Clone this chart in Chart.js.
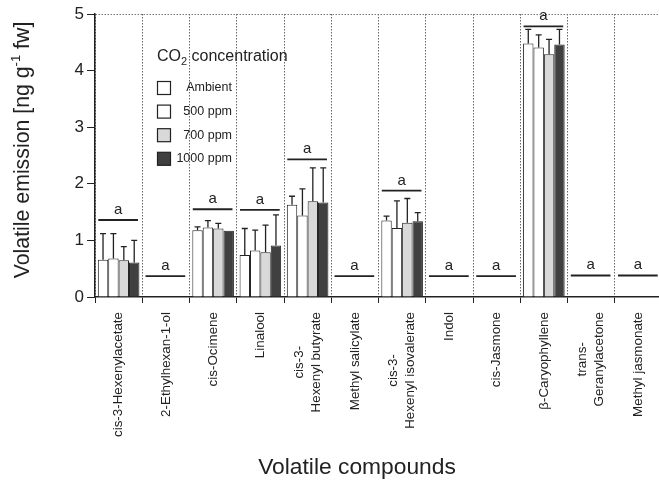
<!DOCTYPE html>
<html>
<head>
<meta charset="utf-8">
<script src="https://cdn.jsdelivr.net/npm/chart.js@4.4.0/dist/chart.umd.min.js"></script>
<style>
  html, body { margin: 0; padding: 0; background: #fff; overflow: hidden; }
  #wrap { position: relative; width: 662px; height: 489px; }
</style>
</head>
<body>
<div id="wrap"><canvas id="chart"></canvas></div>
<script>
const FONT = "'Liberation Sans', Arial, sans-serif";

// categories on the x axis
const compounds = [
  'cis-3-Hexenylacetate', '2-Ethylhexan-1-ol', 'cis-Ocimene', 'Linalool',
  ['cis-3-', 'Hexenyl butyrate'], 'Methyl salicylate', ['cis-3-', 'Hexenyl isovalerate'],
  'Indol', 'cis-Jasmone', 'β-Caryophyllene', ['trans-', 'Geranylacetone'], 'Methyl jasmonate'
];

// CO2 treatments
const treatments = ['Ambient', '500 ppm', '700 ppm', '1000 ppm'];
const treatmentColors = ['#ffffff', '#ffffff', '#d9d9d9', '#404040'];

// mean emission (ng g-1 fw)
const ambient = [0.66, 0, 1.18, 0.74, 1.63, 0, 1.35, 0, 0, 4.48, 0, 0];
const ppm500  = [0.68, 0, 1.23, 0.82, 1.44, 0, 1.22, 0, 0, 4.41, 0, 0];
const ppm700  = [0.65, 0, 1.21, 0.79, 1.69, 0, 1.31, 0, 0, 4.29, 0, 0];
const ppm1000 = [0.61, 0, 1.17, 0.91, 1.67, 0, 1.34, 0, 0, 4.46, 0, 0];

// upper error (SD)
const errAmbient = [0.46, 0, 0.06, 0.47, 0.15, 0, 0.08, 0, 0, 0.25, 0, 0];
const err500     = [0.44, 0, 0.12, 0.36, 0.47, 0, 0.48, 0, 0, 0.22, 0, 0];
const err700     = [0.24, 0, 0.09, 0.48, 0.59, 0, 0.43, 0, 0, 0.26, 0, 0];
const err1000    = [0.39, 0, 0.00, 0.54, 0.61, 0, 0.15, 0, 0, 0.27, 0, 0];

// significance bar heights and letters
const sigLevel  = [1.36, 0.37, 1.55, 1.54, 2.43, 0.37, 1.88, 0.37, 0.37, 4.78, 0.38, 0.38];
const sigLetter = ['a', 'a', 'a', 'a', 'a', 'a', 'a', 'a', 'a', 'a', 'a', 'a'];

const yTicks = [0, 1, 2, 3, 4, 5];

const means = [ambient, ppm500, ppm700, ppm1000];
const errors = [errAmbient, err500, err700, err1000];

const errorBars = {
  id: 'errorBars',
  afterDatasetsDraw(chart) {
    const { ctx, scales: { y } } = chart;
    ctx.save();
    ctx.strokeStyle = '#222';
    ctx.lineWidth = 1.3;
    chart.data.datasets.forEach((ds, di) => {
      const meta = chart.getDatasetMeta(di);
      meta.data.forEach((bar, i) => {
        const e = errors[di][i];
        if (!e) return;
        const top = y.getPixelForValue(ds.data[i] + e);
        ctx.beginPath();
        ctx.moveTo(bar.x, bar.y);
        ctx.lineTo(bar.x, top);
        ctx.moveTo(bar.x - 3, top);
        ctx.lineTo(bar.x + 3, top);
        ctx.stroke();
      });
    });
    ctx.restore();
  }
};

const sigMarks = {
  id: 'sigMarks',
  afterDatasetsDraw(chart) {
    const { ctx, scales: { x, y } } = chart;
    const half = (x.getPixelForValue(1) - x.getPixelForValue(0)) * 0.42;
    ctx.save();
    ctx.strokeStyle = '#222';
    ctx.fillStyle = '#222';
    ctx.lineWidth = 1.8;
    ctx.font = '15px ' + FONT;
    ctx.textAlign = 'center';
    ctx.textBaseline = 'alphabetic';
    sigLevel.forEach((v, i) => {
      const cx = x.getPixelForValue(i) - 0.5;
      const py = y.getPixelForValue(v);
      ctx.beginPath();
      ctx.moveTo(cx - half, py);
      ctx.lineTo(cx + half, py);
      ctx.stroke();
      ctx.fillText(sigLetter[i], cx, py - 6);
    });
    ctx.restore();
  }
};

// category labels, rotated, lines centred on each other
const xLabels = {
  id: 'xLabels',
  afterDraw(chart) {
    const { ctx, scales: { x } } = chart;
    const lineH = 17;
    ctx.save();
    ctx.fillStyle = '#222';
    ctx.font = '13.4px ' + FONT;
    ctx.textAlign = 'center';
    ctx.textBaseline = 'middle';
    compounds.forEach((lab, i) => {
      const lines = Array.isArray(lab) ? lab : [lab];
      const w = Math.max(...lines.map(l => ctx.measureText(l).width));
      const cx = x.getPixelForValue(i);
      const cy = x.bottom - 192 + 15 + w / 2;
      lines.forEach((l, j) => {
        ctx.save();
        ctx.translate(cx + (j - (lines.length - 1) / 2) * lineH, cy);
        ctx.rotate(-Math.PI / 2);
        ctx.fillText(l, 0, 0);
        ctx.restore();
      });
    });
    ctx.restore();
  }
};

const decorations = {
  id: 'decorations',
  afterDraw(chart) {
    const { ctx } = chart;
    ctx.save();
    ctx.fillStyle = '#222';

    // legend title: CO2 concentration
    ctx.textBaseline = 'alphabetic';
    ctx.textAlign = 'left';
    let lx = 157;
    ctx.font = '16px ' + FONT;
    ctx.fillText('CO', lx, 61);
    lx += ctx.measureText('CO').width;
    ctx.font = '11px ' + FONT;
    ctx.fillText('2', lx, 65);
    lx += ctx.measureText('2').width;
    ctx.font = '16px ' + FONT;
    ctx.fillText(' concentration', lx, 61);

    // legend entries
    ctx.font = '12.5px ' + FONT;
    ctx.textAlign = 'right';
    ctx.textBaseline = 'middle';
    chart.data.datasets.forEach((ds, i) => {
      const cy = 88 + i * 23.6;
      ctx.fillStyle = ds.backgroundColor;
      ctx.fillRect(157.5, cy - 6.5, 13, 13);
      ctx.strokeStyle = '#222';
      ctx.lineWidth = 1.2;
      ctx.strokeRect(157.5, cy - 6.5, 13, 13);
      ctx.fillStyle = '#222';
      ctx.fillText(ds.label, 232, cy);
    });

    // y axis title with superscript
    ctx.translate(23, 150);
    ctx.rotate(-Math.PI / 2);
    ctx.textAlign = 'left';
    ctx.textBaseline = 'middle';
    const parts = [['Volatile emission [ng g', 21.3, 0], ['-1', 13, -7], [' fw]', 21.3, 0]];
    let total = 0;
    parts.forEach(p => { ctx.font = p[1] + 'px ' + FONT; total += ctx.measureText(p[0]).width; });
    let tx = -total / 2;
    parts.forEach(p => {
      ctx.font = p[1] + 'px ' + FONT;
      ctx.fillText(p[0], tx, p[2]);
      tx += ctx.measureText(p[0]).width;
    });
    ctx.setTransform(1, 0, 0, 1, 0, 0);

    // x axis title
    ctx.font = '22.8px ' + FONT;
    ctx.textAlign = 'center';
    ctx.fillText('Volatile compounds', 357, 468);
    ctx.restore();
  }
};

new Chart(document.getElementById('chart'), {
  type: 'bar',
  data: {
    labels: compounds,
    datasets: treatments.map((t, i) => ({
      label: t,
      data: means[i],
      backgroundColor: treatmentColors[i],
      borderColor: '#222',
      borderWidth: 1
    }))
  },
  options: {
    responsive: true,
    maintainAspectRatio: false,
    animation: false,
    layout: { padding: { top: 14, right: 0, bottom: 0, left: 0 } },
    datasets: { bar: { categoryPercentage: 0.88, barPercentage: 1.0 } },
    plugins: { legend: { display: false }, tooltip: { enabled: false } },
    scales: {
      x: {
        grid: { offset: true, color: '#666', lineWidth: 1, tickColor: '#222', tickLength: 6 },
        border: { display: true, color: '#222', width: 1.5, dash: [1.5, 1.5] },
        ticks: { display: false },
        afterFit: s => { s.height = 192; }
      },
      y: {
        min: 0, max: 5,
        afterBuildTicks: s => { s.ticks = yTicks.map(v => ({ value: v })); },
        grid: {
          color: c => (c.tick && c.tick.value === 5 ? '#777' : 'rgba(0,0,0,0)'),
          tickColor: '#222', tickLength: 8
        },
        border: { display: true, color: '#222', width: 1.5, dash: [1.5, 1.5] },
        ticks: { color: '#222', font: { family: FONT, size: 17 }, padding: 3 },
        afterFit: s => { s.width = 95; }
      }
    }
  },
  plugins: [errorBars, sigMarks, xLabels, decorations]
});
</script>
</body>
</html>
